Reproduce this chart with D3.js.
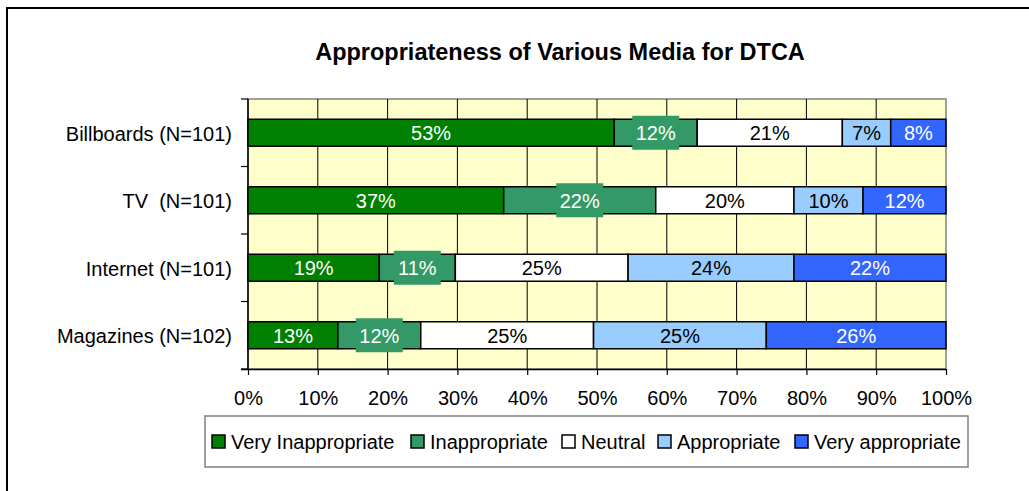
<!DOCTYPE html>
<html>
<head>
<meta charset="utf-8">
<script src="https://cdn.jsdelivr.net/npm/d3@7"></script>
<style>
  html, body { margin: 0; padding: 0; background: #fff; }
  svg { display: block; font-family: Arial, "Liberation Sans", sans-serif; }
</style>
</head>
<body>
<svg id="chart" width="1029" height="491"></svg>
<script>
// Survey responses per medium (label values, shown as %)
const categories = ["Billboards (N=101)", "TV  (N=101)", "Internet (N=101)", "Magazines (N=102)"];
const seriesNames = ["Very Inappropriate", "Inappropriate", "Neutral", "Appropriate", "Very appropriate"];
const veryInappropriate = [53, 37, 19, 13];
const inappropriate     = [12, 22, 11, 12];
const neutral           = [21, 20, 25, 25];
const appropriate       = [7, 10, 24, 25];
const veryAppropriate   = [8, 12, 22, 26];
const tickValues = [0, 0.1, 0.2, 0.3, 0.4, 0.5, 0.6, 0.7, 0.8, 0.9, 1.0];

const seriesValues = [veryInappropriate, inappropriate, neutral, appropriate, veryAppropriate];
const fills = ["#008000", "#339966", "#ffffff", "#99ccff", "#3366ff"];
const textColors = ["#ffffff", "#ffffff", "#000000", "#000000", "#ffffff"];

const rows = categories.map((c, i) => {
  const r = { category: c };
  seriesNames.forEach((s, j) => { r[s] = seriesValues[j][i]; });
  return r;
});

const stacked = d3.stack().keys(seriesNames).offset(d3.stackOffsetExpand)(rows);

const svg = d3.select("#chart");

// outer chart frame
svg.append("rect")
  .attr("x", 7).attr("y", 8).attr("width", 1060).attr("height", 520)
  .attr("fill", "#fff").attr("stroke", "#000").attr("stroke-width", 2);

const plot = { left: 248, right: 946, top: 99, bottom: 369 };

const x = d3.scaleLinear().domain([0, 1]).range([plot.left, plot.right]);
const y = d3.scaleBand().domain(categories).range([plot.top, plot.bottom]).paddingInner(0.6).paddingOuter(0.3);
const yOuter = d3.scaleBand().domain(categories).range([plot.top, plot.bottom]);

// title
svg.append("text")
  .attr("x", 560).attr("y", 60)
  .attr("text-anchor", "middle")
  .attr("font-weight", "bold").attr("font-size", 23.5)
  .text("Appropriateness of Various Media for DTCA");

// plot background
svg.append("rect")
  .attr("x", plot.left).attr("y", plot.top)
  .attr("width", plot.right - plot.left).attr("height", plot.bottom - plot.top)
  .attr("fill", "#ffffcc").attr("stroke", "#808080").attr("stroke-width", 1.5);

// vertical gridlines
svg.append("g")
  .selectAll("line")
  .data(tickValues.slice(1, -1))
  .join("line")
  .attr("x1", d => x(d)).attr("x2", d => x(d))
  .attr("y1", plot.top).attr("y2", plot.bottom)
  .attr("stroke", "#000").attr("stroke-width", 1);

// x axis
const xAxis = svg.append("g")
  .attr("transform", `translate(0,${plot.bottom})`)
  .call(d3.axisBottom(x).tickValues(tickValues).tickFormat(d3.format(".0%")).tickSizeInner(6).tickSizeOuter(0).tickPadding(16));
xAxis.select(".domain").attr("stroke", "#000").attr("stroke-width", 1.5)
  .attr("d", `M${plot.left - 7},0.5H${plot.right}`);
xAxis.selectAll(".tick line").attr("stroke", "#000").attr("stroke-width", 1.2);
xAxis.selectAll("text").attr("font-size", 20).attr("fill", "#000")
  .attr("font-family", "Arial, 'Liberation Sans', sans-serif");

// y axis line and category boundary ticks
const bounds = categories.map(c => yOuter(c)).concat([plot.bottom]);
svg.append("line")
  .attr("x1", plot.left).attr("x2", plot.left)
  .attr("y1", plot.top).attr("y2", plot.bottom)
  .attr("stroke", "#000").attr("stroke-width", 1.5);
svg.append("g").selectAll("line").data(bounds).join("line")
  .attr("x1", plot.left - 7).attr("x2", plot.left)
  .attr("y1", d => d).attr("y2", d => d)
  .attr("stroke", "#000").attr("stroke-width", 1.2);

// category labels
svg.append("g").selectAll("text").data(categories).join("text")
  .attr("x", 232)
  .attr("y", d => y(d) + y.bandwidth() / 2 + 8)
  .attr("text-anchor", "end")
  .attr("font-size", 20).attr("fill", "#000")
  .style("white-space", "pre")
  .text(d => d);

// stacked bars
const layers = svg.append("g").selectAll("g").data(stacked).join("g")
  .attr("fill", (d, i) => fills[i]);

layers.selectAll("rect").data(d => d).join("rect")
  .attr("x", d => x(d[0]))
  .attr("y", d => y(d.data.category))
  .attr("width", d => x(d[1]) - x(d[0]))
  .attr("height", y.bandwidth())
  .attr("stroke", "#000").attr("stroke-width", 1.5);

// value labels
stacked.forEach((layer, i) => {
  const g = svg.append("g");
  layer.forEach((d, k) => {
    const cx = (x(d[0]) + x(d[1])) / 2;
    const cy = y(d.data.category) + y.bandwidth() / 2;
    const label = seriesValues[i][k] + "%";
    if (i === 1) {
      g.append("rect")
        .attr("x", cx - 23.5).attr("y", cy - 17)
        .attr("width", 47).attr("height", 34)
        .attr("fill", fills[i]);
    }
    g.append("text")
      .attr("x", cx).attr("y", cy + 7.5)
      .attr("text-anchor", "middle")
      .attr("font-size", 20).attr("fill", textColors[i])
      .text(label);
  });
});

// legend
const legend = svg.append("g");
legend.append("rect")
  .attr("x", 205).attr("y", 416).attr("width", 763).attr("height", 51)
  .attr("fill", "#fff").attr("stroke", "#808080").attr("stroke-width", 1.5);
const legendX = [212, 411, 562, 658, 795];
seriesNames.forEach((s, i) => {
  legend.append("rect")
    .attr("x", legendX[i]).attr("y", 435).attr("width", 13).attr("height", 13)
    .attr("fill", fills[i]).attr("stroke", "#000").attr("stroke-width", 1.5);
  legend.append("text")
    .attr("x", legendX[i] + 19).attr("y", 448.5)
    .attr("font-size", 20).attr("fill", "#000")
    .text(s);
});
</script>
</body>
</html>
